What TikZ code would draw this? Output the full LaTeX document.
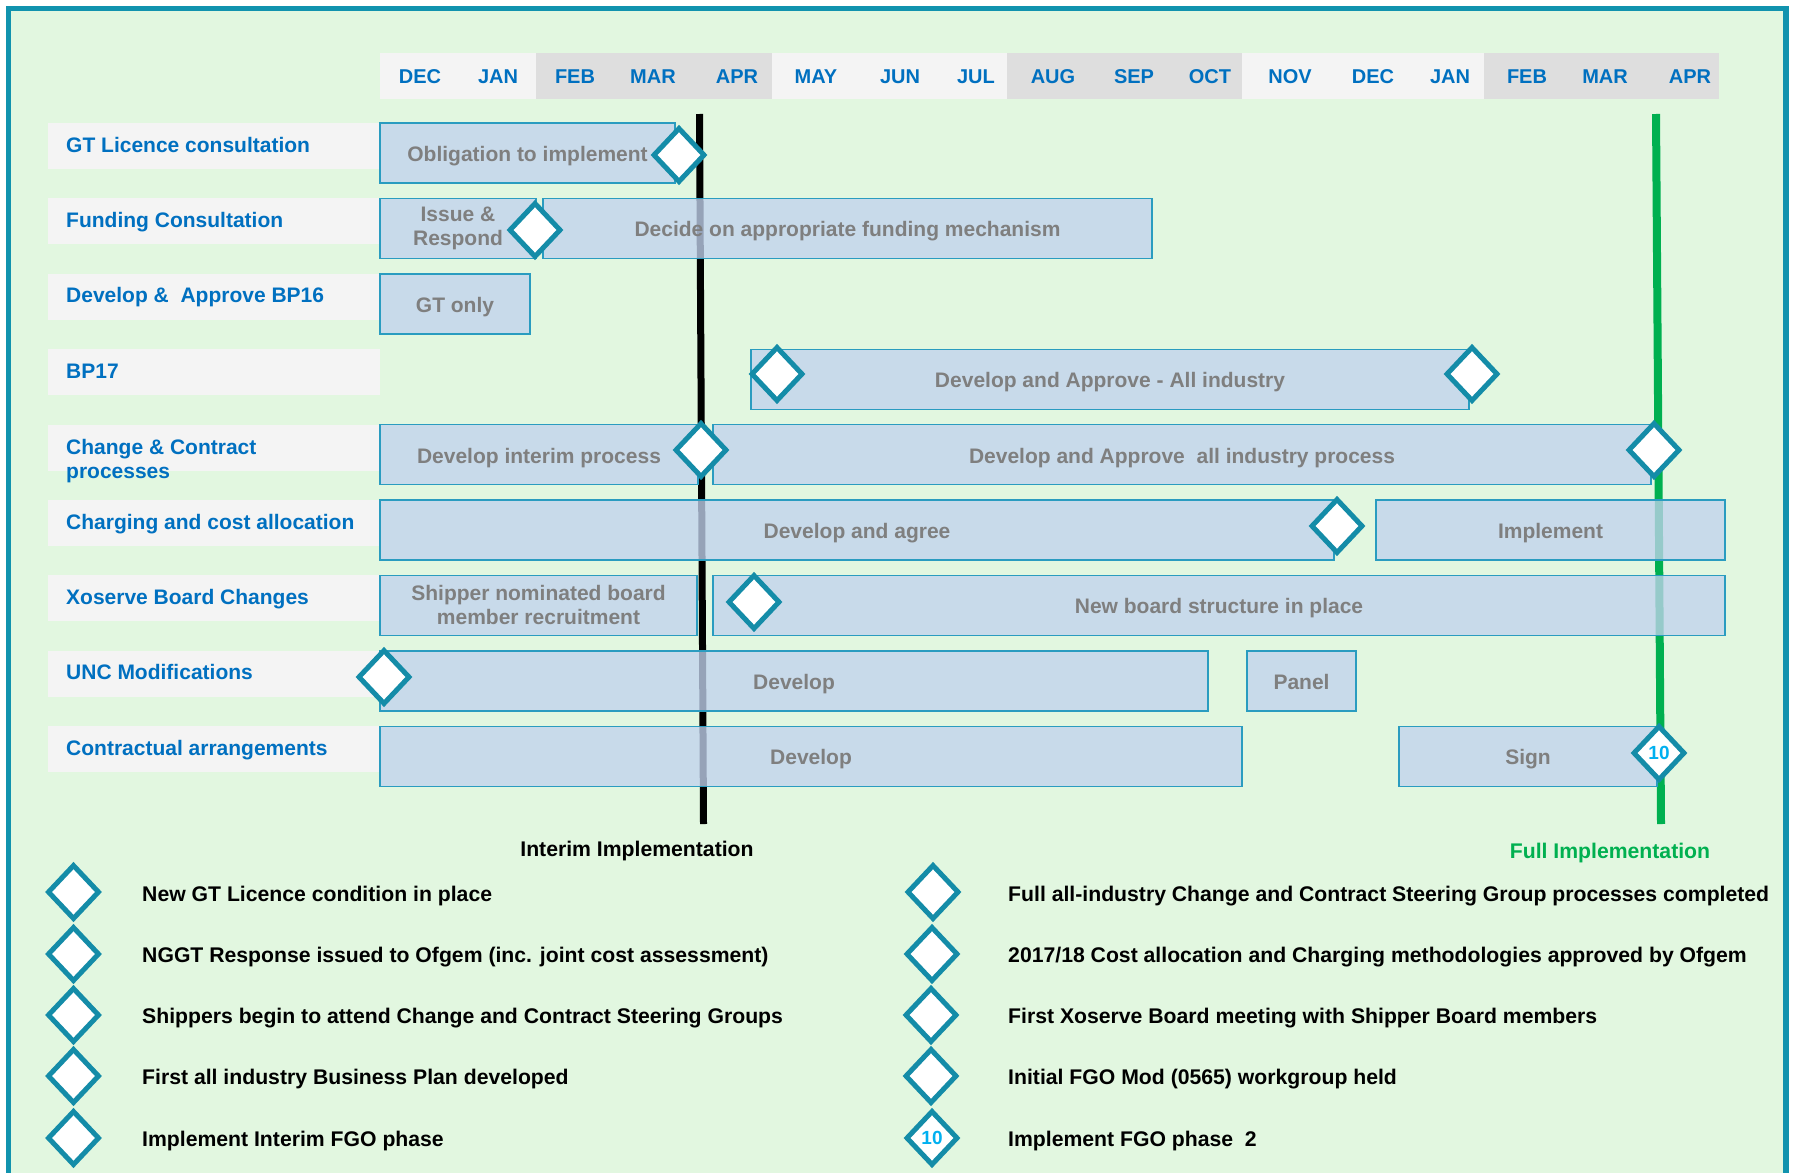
\documentclass[tikz,border=0pt]{standalone}
\usepackage{fontspec}
\setmainfont{Liberation Sans}
\usetikzlibrary{shapes.geometric}
\definecolor{frameC}{RGB}{17,147,174}
\definecolor{bgC}{RGB}{226,247,224}
\definecolor{hdrL}{RGB}{244,244,244}
\definecolor{hdrD}{RGB}{222,222,222}
\definecolor{monthC}{RGB}{0,112,192}
\definecolor{barF}{RGB}{193,210,237}
\definecolor{barD}{RGB}{42,156,192}
\definecolor{barT}{RGB}{127,127,127}
\definecolor{diaC}{RGB}{20,140,168}
\definecolor{numC}{RGB}{0,176,240}
\definecolor{fullC}{RGB}{0,176,80}
\begin{document}
\begin{tikzpicture}[x=1pt,y=-1pt,
 month/.style={font=\fontsize{20}{24}\selectfont\bfseries, text=monthC, inner sep=0pt, anchor=base},
 lab/.style={font=\fontsize{21}{24}\selectfont\bfseries, text=monthC, align=left, inner sep=0pt},
 labbox/.style={fill=hdrL},
 bar/.style={draw=barD, line width=1.4pt, fill=barF, fill opacity=0.78, text opacity=1, text=barT,
   font=\fontsize{21}{24}\selectfont\bfseries, align=center, inner sep=0pt, minimum height=60pt},
 bar1/.style={bar, text height=18pt, text depth=1pt},
 ms/.style={shape=diamond, draw=diaC, line width=5pt, fill=white, minimum width=52pt, minimum height=55pt,
   inner sep=0pt, text=numC, font=\fontsize{19}{20}\selectfont\bfseries},
 leg/.style={font=\fontsize{21.2}{24}\selectfont\bfseries, anchor=base west, inner sep=0pt},
]
\useasboundingbox (0,0) rectangle (1795,1172);
\clip (0,0) rectangle (1795,1172);
\fill[white] (0,0) rectangle (1795,1172);
\draw[frameC, line width=5.5pt, fill=bgC] (8.5,8.5) rectangle (1786,1200);

% header
\fill[hdrL] (380,53) rectangle (536,99);
\fill[hdrD] (536,53) rectangle (772,99);
\fill[hdrL] (772,53) rectangle (1007,99);
\fill[hdrD] (1007,53) rectangle (1242,99);
\fill[hdrL] (1242,53) rectangle (1484,99);
\fill[hdrD] (1484,53) rectangle (1719,99);
\node[month] (m1) at (420,83) {DEC};
\node[month] (m2) at (498,83) {JAN};
\node[month] (m3) at (575,83) {FEB};
\node[month] (m4) at (653,83) {MAR};
\node[month] (m5) at (737,83) {APR};
\node[month] (m6) at (816,83) {MAY};
\node[month] (m7) at (900,83) {JUN};
\node[month] (m8) at (976,83) {JUL};
\node[month] (m9) at (1053,83) {AUG};
\node[month] (m10) at (1134,83) {SEP};
\node[month] (m11) at (1210,83) {OCT};
\node[month] (m12) at (1290,83) {NOV};
\node[month] (m13) at (1373,83) {DEC};
\node[month] (m14) at (1450,83) {JAN};
\node[month] (m15) at (1527,83) {FEB};
\node[month] (m16) at (1605,83) {MAR};
\node[month] (m17) at (1690,83) {APR};

% row label boxes
\foreach \t in {123,198.4,273.8,349.2,424.6,500,575.4,650.8,726.2}
  \fill[labbox] (48,\t) rectangle (380,\t+46);
\node[lab, anchor=base west] (l0) at (66,152) {GT Licence consultation};
\node[lab, anchor=base west] (l1) at (66,227.4) {Funding Consultation};
\node[lab, anchor=base west] (l2) at (66,302.8) {Develop \&\ \ Approve BP16};
\node[lab, anchor=base west] (l3) at (66,378.2) {BP17};
\node[lab, anchor=west] (l4) at (66,461.5) {Change \& Contract\\processes};
\node[lab, anchor=base west] (l5) at (66,529) {Charging and cost allocation};
\node[lab, anchor=base west] (l6) at (66,604.4) {Xoserve Board Changes};
\node[lab, anchor=base west] (l7) at (66,679.8) {UNC Modifications};
\node[lab, anchor=base west] (l8) at (66,755.2) {Contractual arrangements};

% implementation lines
\coordinate (it) at (699.5,114);
\coordinate (ib) at (703.5,824);
\coordinate (ft) at (1656,114);
\coordinate (fb) at (1661,824);
\draw[black, line width=7pt] (it) -- (ib);
\draw[fullC, line width=8pt] (ft) -- (fb);

% bars
\node[bar1, minimum width=295pt] (b0) at (527.5,153) {Obligation to implement};
\node[bar, minimum width=156pt] (b1a) at (458,228.4) {Issue \&\\Respond};
\node[bar1, minimum width=609pt] (b1b) at (847.5,228.4) {Decide on appropriate funding mechanism};
\node[bar1, minimum width=150pt] (b2) at (455,303.8) {GT only};
\node[bar1, minimum width=718pt] (b3) at (1110,379.2) {Develop and Approve - All industry};
\node[bar1, minimum width=318pt] (b4a) at (539,454.6) {Develop interim process};
\node[bar1, minimum width=938pt] (b4b) at (1182,454.6) {Develop and Approve\ \ all industry process};
\node[bar1, minimum width=954pt] (b5a) at (857,530) {Develop and agree};
\node[bar1, minimum width=349pt] (b5b) at (1550.5,530) {Implement};
\node[bar, minimum width=317pt] (b6a) at (538.5,605.4) {Shipper nominated board\\member recruitment};
\node[bar1, minimum width=1012pt] (b6b) at (1219,605.4) {New board structure in place};
\node[bar1, minimum width=828pt] (b7a) at (794,680.8) {Develop};
\node[bar1, minimum width=109pt] (b7b) at (1301.5,680.8) {Panel};
\node[bar1, minimum width=862pt] (b8a) at (811,756.2) {Develop};
\node[bar1, minimum width=258pt] (b8b) at (1528,756.2) {Sign};

% milestones
\node[ms] (d0) at (679,155) {};
\node[ms] (d1) at (535,230) {};
\node[ms] (d3a) at (777,374) {};
\node[ms] (d3b) at (1472,374) {};
\node[ms] (d4a) at (701,450) {};
\node[ms] (d4b) at (1654,450) {};
\node[ms] (d5) at (1337,526) {};
\node[ms] (d6) at (754,602) {};
\node[ms] (d7) at (384,677) {};
\node[ms] (d8) at (1659,753) {10};

\node[leg, anchor=base] (interim) at (637,856) {Interim Implementation};
\node[leg, anchor=base, text=fullC] (full) at (1610,858.5) {Full Implementation};

% legend
\node[ms] (k1) at (73.5,892) {};
\node[ms] (k2) at (73.5,954) {};
\node[ms] (k3) at (73.5,1015) {};
\node[ms] (k4) at (73.5,1076) {};
\node[ms] (k5) at (73.5,1138) {};
\node[leg] (t1) at (142,901) {New GT Licence condition in place};
\node[leg] (t2) at (142,962) {NGGT Response issued to Ofgem (inc. joint cost assessment)};
\node[leg] (t3) at (142,1023) {Shippers begin to attend Change and Contract Steering Groups};
\node[leg] (t4) at (142,1084) {First all industry Business Plan developed};
\node[leg] (t5) at (142,1146) {Implement Interim FGO phase};
\node[ms] (k6) at (933,892) {};
\node[ms] (k7) at (932,954) {};
\node[ms] (k8) at (931,1015) {};
\node[ms] (k9) at (931,1076) {};
\node[ms] (k10) at (932,1138) {10};
\node[leg] (t6) at (1008,901) {Full all-industry Change and Contract Steering Group processes completed};
\node[leg] (t7) at (1008,962) {2017/18 Cost allocation and Charging methodologies approved by Ofgem};
\node[leg] (t8) at (1008,1023) {First Xoserve Board meeting with Shipper Board members};
\node[leg] (t9) at (1008,1084) {Initial FGO Mod (0565) workgroup held};
\node[leg] (t10) at (1008,1146) {Implement FGO phase\ \ 2};
\end{tikzpicture}
\end{document}
